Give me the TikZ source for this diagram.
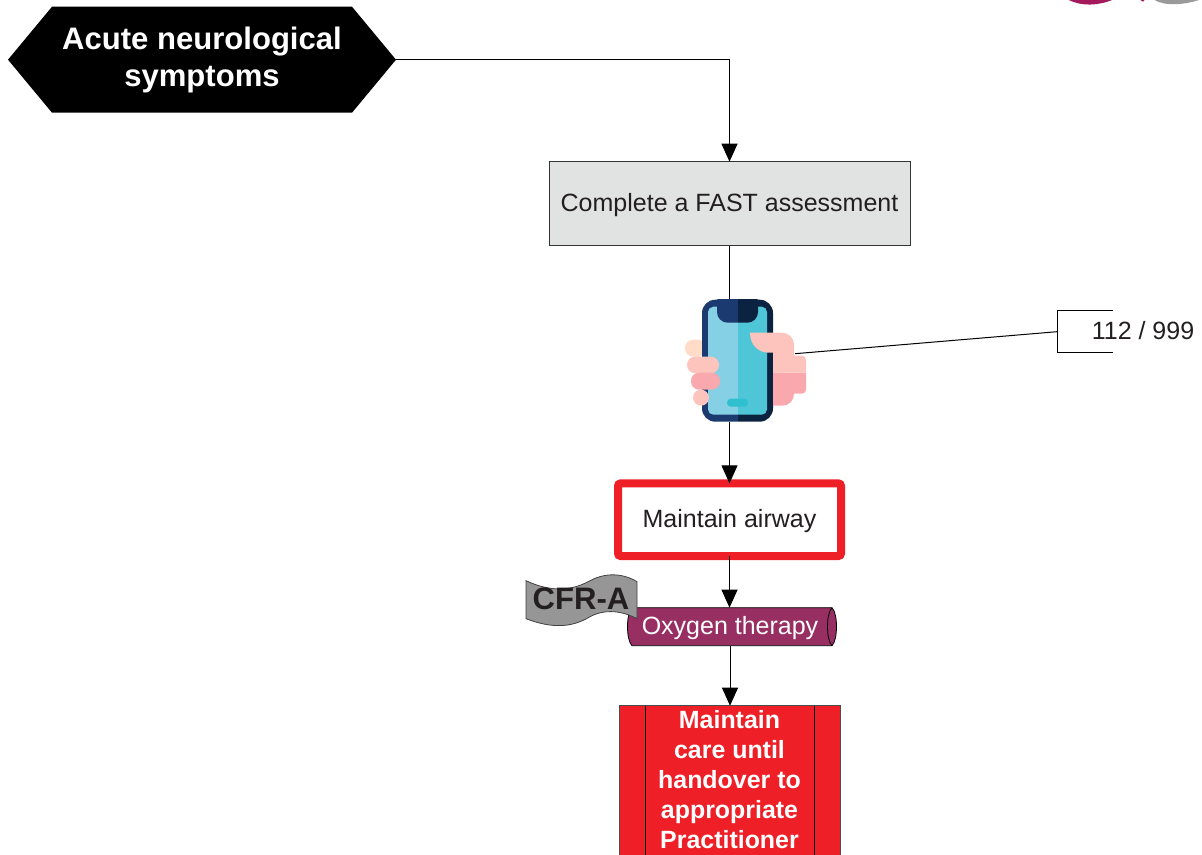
\documentclass[tikz,border=0pt]{standalone}
\usepackage{fontspec}
\setmainfont{Liberation Sans}
\usetikzlibrary{arrows.meta,calc}
\definecolor{hexblack}{HTML}{000000}
\definecolor{fastgrey}{HTML}{E1E3E2}
\definecolor{alarmred}{HTML}{EE1F26}
\definecolor{oxy}{HTML}{982F63}
\definecolor{scrollgrey}{HTML}{969696}
\definecolor{inktext}{HTML}{231F20}
\definecolor{phoneL}{HTML}{1B3A6F}
\definecolor{phoneR}{HTML}{0B2340}
\definecolor{screenL}{HTML}{85D0E4}
\definecolor{screenR}{HTML}{4FC6D8}
\definecolor{homebtn}{HTML}{2FC0D0}
\definecolor{skinA}{HTML}{FCC4BC}
\definecolor{skinB}{HTML}{F9A9AD}
\definecolor{skinC}{HTML}{FFDCC8}
\definecolor{logomag}{HTML}{A3195B}
\definecolor{logogrey}{HTML}{9A9A9A}
\tikzset{
  x=0.75pt,y=-0.75pt,
  flow/.style={line width=0.75pt,draw=black},
  arrowed/.style={flow,-{Triangle[length=13.5pt,width=12pt]}},
  boxbase/.style={inner sep=0pt,outer sep=0pt,align=center},
  normaltxt/.style={font=\fontsize{18.75pt}{22pt}\selectfont,text=inktext,text height=16pt,text depth=4pt},
}
\begin{document}
\begin{tikzpicture}
\useasboundingbox (0,-0.7) rectangle (1202,854.3);
\clip (0,-0.7) rectangle (1202,854.3);
% logo fragment
\fill[logomag] (1068,-1) .. controls (1082,6) and (1098,5) .. (1113,-1) -- cycle;
\fill[logomag] (1140,-1) -- (1145,-1) -- (1143,1) -- cycle;
\fill[logogrey] (1154,-1) .. controls (1165,6) and (1185,4) .. (1200,-1) -- cycle;
% start hexagon
\fill[hexblack] (8,59) -- (52,6) -- (352,6) -- (396,59) -- (352,112) -- (52,112) -- cycle;
\node[boxbase,minimum width=291pt,minimum height=79.5pt,text=white,text height=46.5pt,text depth=5.7pt,
  font=\fontsize{23.3pt}{28.3pt}\selectfont\bfseries] (start) at (202,59) {Acute neurological\\symptoms};
% FAST
\node[boxbase,normaltxt,draw=black!80,line width=0.75pt,fill=fastgrey,minimum width=270.75pt,minimum height=63pt] (fast) at (729.5,203) {Complete a FAST assessment};
% phone placeholder node
\node[boxbase,minimum width=53.25pt,minimum height=91.5pt] (phone) at (737.5,360) {};
\coordinate (hand) at (795,353);
% airway
\node[boxbase,normaltxt,draw=alarmred,fill=white,line width=6pt,rounded corners=2pt,minimum width=167.25pt,minimum height=54.5pt] (airway) at (729.5,519) {Maintain airway};
% oxygen cylinder
\filldraw[fill=oxy,draw=black,line width=0.6pt] (632,607) -- (832,607)
  .. controls (838,613) and (838,639) .. (832,645) -- (632,645)
  .. controls (626,639) and (626,613) .. (632,607) -- cycle;
\draw[black,line width=0.6pt] (832,607) .. controls (826,613) and (826,639) .. (832,645);
\node[boxbase,minimum width=150pt,minimum height=28.5pt,text=white,text height=16pt,text depth=4pt,font=\fontsize{18.75pt}{22pt}\selectfont] (oxygen) at (730,626) {Oxygen therapy};
% scroll
\filldraw[fill=scrollgrey,draw=black!75,line width=0.6pt] (526,580)
  .. controls (552,592) and (572,590) .. (590,580)
  .. controls (605,572) and (622,572) .. (637,581)
  -- (637,618)
  .. controls (622,610) and (605,608) .. (590,616)
  .. controls (572,627) and (552,628) .. (526,618) -- cycle;
\node[boxbase,text=inktext,font=\fontsize{23.3pt}{26pt}\selectfont\bfseries] (cfr) at (581,598) {CFR-A};
% red box
\node[boxbase,fill=alarmred,draw=black!70,line width=0.75pt,minimum width=165.75pt,minimum height=121.5pt] (care) at (729.5,786) {};
\draw[black,line width=0.75pt] (645,705) -- (645,870) (814,705) -- (814,870);
\node[boxbase,text=white,font=\fontsize{18.7pt}{22.5pt}\selectfont\bfseries,anchor=north] (caretext) at (729.5,709.8) {Maintain\\care until\\handover to\\appropriate\\Practitioner};
% annotation
\node[boxbase,minimum width=42pt,minimum height=31.5pt] (ann) at (1085,331) {};
\draw[flow] (ann.north east) -- (ann.north west) -- (ann.south west) -- (ann.south east);
\node[boxbase,normaltxt] (anntext) at (1143,331) {112 / 999};
% connectors
\draw[arrowed] (start.east) -| (fast.north);
\draw[flow] (fast.south) -- (fast.south |- phone.north);
\draw[arrowed] (airway.north |- phone.south) -- (airway.north);
\draw[arrowed] (airway.south) -- (airway.south |- oxygen.north);
\draw[arrowed] (oxygen.south) -- (oxygen.south |- care.north);
\draw[flow] (hand) -- (ann.west);
% phone drawing
\fill[skinC,rounded corners=6pt] (685,339) rectangle (706,356);
\begin{scope}
\clip (702,299) rectangle (738,421);
\fill[phoneL,rounded corners=10pt] (702,299) rectangle (773,421);
\end{scope}
\begin{scope}
\clip (738,299) rectangle (773,421);
\fill[phoneR,rounded corners=10pt] (702,299) rectangle (773,421);
\end{scope}
\begin{scope}
\clip (708,306) rectangle (738,414);
\fill[screenL,rounded corners=4pt] (708,306) rectangle (767,414);
\end{scope}
\begin{scope}
\clip (738,306) rectangle (767,414);
\fill[screenR,rounded corners=4pt] (708,306) rectangle (767,414);
\end{scope}
\begin{scope}
\clip (717,299) rectangle (738,330);
\fill[phoneL,rounded corners=8pt] (717,290) rectangle (758,322);
\end{scope}
\begin{scope}
\clip (738,299) rectangle (758,330);
\fill[phoneR,rounded corners=8pt] (717,290) rectangle (758,322);
\end{scope}
\fill[homebtn,rounded corners=2.8pt] (727,398) rectangle (748,406);
% hand
\fill[skinB] (773,372) -- (806,372) -- (806,387) .. controls (806,391) and (805,393) .. (802,393)
  -- (794,393) .. controls (794,400) and (789,405) .. (782,405) -- (773,405) -- cycle;
\fill[skinA] (750,332) -- (781,332) .. controls (789,332) and (794,337) .. (794,345) -- (794,355)
  -- (802,355) .. controls (805,355) and (806,357) .. (806,360) -- (806,372) -- (773,372) -- (773,352)
  -- (769,352) .. controls (758,352) and (750,344) .. (750,332) -- cycle;
\fill[skinA,rounded corners=6pt] (687,356) rectangle (719,372.5);
\fill[skinB,rounded corners=6pt] (691,372) rectangle (720,389);
\fill[skinA] (701,397) circle[radius=8];
\end{tikzpicture}
\end{document}
